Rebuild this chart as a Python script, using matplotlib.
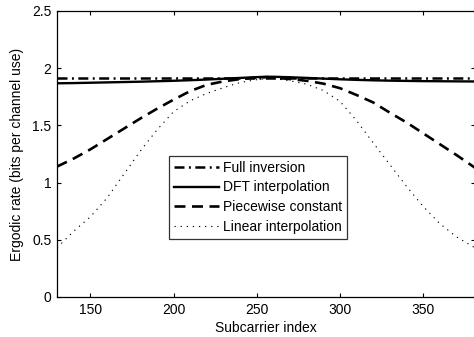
import matplotlib
matplotlib.use("Agg")
import matplotlib.pyplot as plt

plt.rcParams['font.family'] = ['Liberation Sans', 'DejaVu Sans']
plt.rcParams['lines.scale_dashes'] = False

subcarriers = [130, 140, 150, 160, 170, 180, 190, 200, 210, 220, 230, 240, 250, 256,
               260, 270, 280, 290, 300, 310, 320, 330, 340, 350, 360, 370, 381]
full_inversion = [1.918] * len(subcarriers)
dft_interp = [1.868, 1.870, 1.873, 1.876, 1.879, 1.882, 1.886, 1.890, 1.895, 1.901, 1.908,
              1.915, 1.922, 1.925, 1.925, 1.921, 1.915, 1.909, 1.903, 1.898, 1.894, 1.891,
              1.889, 1.887, 1.886, 1.885, 1.884]
piecewise = [1.14, 1.21, 1.29, 1.38, 1.47, 1.56, 1.645, 1.725, 1.80, 1.855, 1.885, 1.905, 1.918,
             1.922, 1.918, 1.905, 1.89, 1.865, 1.825, 1.765, 1.70, 1.61, 1.525, 1.43, 1.335,
             1.24, 1.13]
linear = [0.43, 0.575, 0.70, 0.865, 1.07, 1.275, 1.46, 1.62, 1.715, 1.78, 1.83, 1.875, 1.90,
          1.91, 1.91, 1.89, 1.86, 1.805, 1.71, 1.54, 1.345, 1.155, 0.965, 0.79, 0.64, 0.525,
          0.43]

xticks = [150, 200, 250, 300, 350]
yticks = [0, 0.5, 1, 1.5, 2, 2.5]
ytick_labels = ["0", "0.5", "1", "1.5", "2", "2.5"]

fig = plt.figure(figsize=(4.74, 3.37), dpi=100)
ax = fig.add_axes([57 / 474, 40 / 337, 1 - 57 / 474 + 0.002, 286 / 337])

ax.plot(subcarriers, full_inversion, color='black', lw=1.8,
        linestyle=(0, (7.2, 3.2, 1.4, 3.2)), label='Full inversion')
ax.plot(subcarriers, dft_interp, color='black', lw=1.7, linestyle='-', label='DFT interpolation')
ax.plot(subcarriers, piecewise, color='black', lw=1.9,
        linestyle=(0, (7.9, 4.7)), label='Piecewise constant')
ax.plot(subcarriers, linear, color='black', lw=0.8,
        linestyle=(0, (0.9, 3.5)), label='Linear interpolation')

ax.set_xlim(130, 381)
ax.set_ylim(0, 2.5)
ax.set_xticks(xticks)
ax.set_yticks(yticks)
ax.set_yticklabels(ytick_labels)
ax.tick_params(direction='in', length=3, width=0.8, top=True, right=True, labelsize=10, pad=4)
for s in ax.spines.values():
    s.set_linewidth(0.9)
ax.set_xlabel('Subcarrier index', fontsize=10, labelpad=3)
ax.set_ylabel('Ergodic rate (bits per channel use)', fontsize=10, labelpad=6)

leg = ax.legend(loc='lower left', bbox_to_anchor=((169 - 57) / 417, (297 - 239) / 286),
                fontsize=10, frameon=True, fancybox=False, edgecolor='black',
                handlelength=3.2, handletextpad=0.35, labelspacing=0.42,
                borderpad=0.35, borderaxespad=0)
leg.get_frame().set_linewidth(0.9)

fig.savefig('out.png', dpi=100)
